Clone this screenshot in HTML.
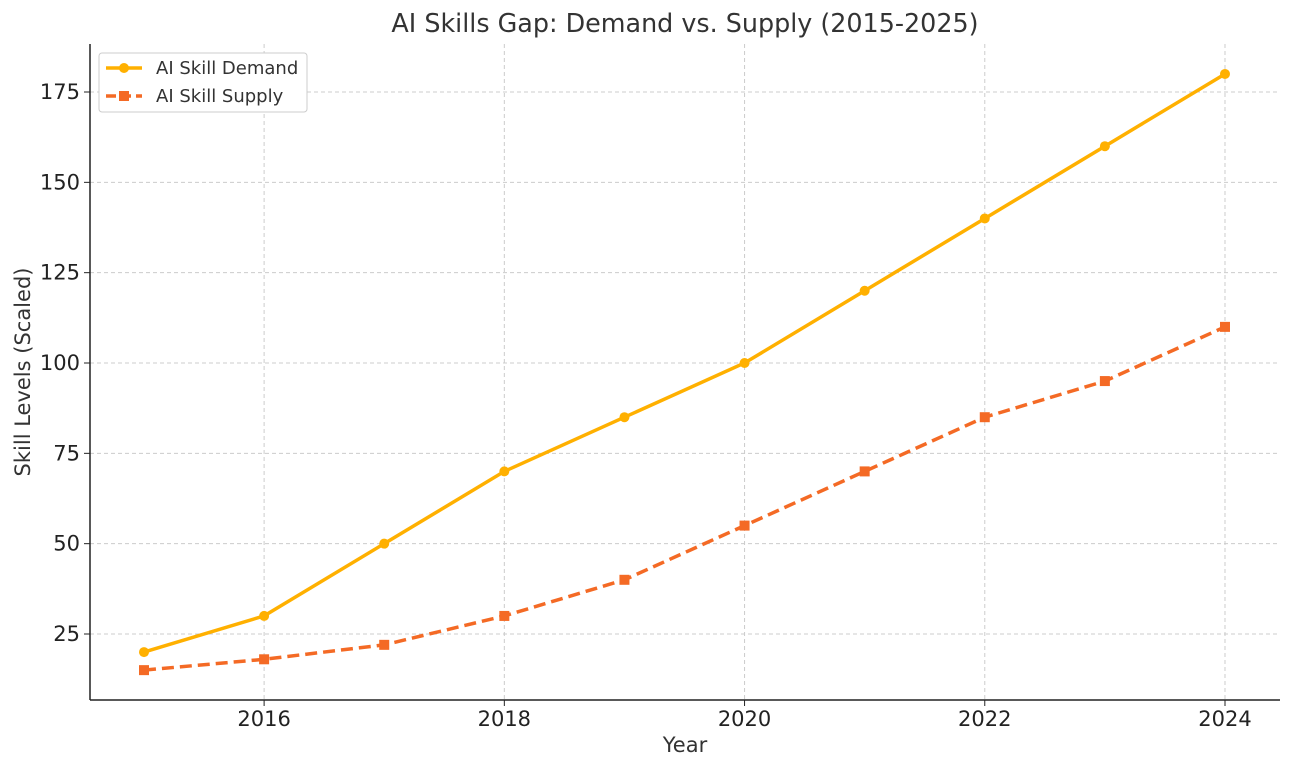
<!DOCTYPE html>
<html><head><meta charset="utf-8"><style>
body{margin:0;background:#fff;font-family:"Liberation Sans","DejaVu Sans",sans-serif}
svg text{font-family:"DejaVu Sans","Liberation Sans",sans-serif;fill:#333}
</style></head><body>
<svg id="chart" width="1292" height="770" xmlns="http://www.w3.org/2000/svg">
<rect width="1292" height="770" fill="#fff"/>
<g id="grid"></g><g id="axes"></g><g id="series"></g>
<text x="685" y="32" text-anchor="middle" font-size="25.4">AI Skills Gap: Demand vs. Supply (2015-2025)</text>
<text x="685" y="752" text-anchor="middle" font-size="21">Year</text>
<text transform="translate(30,372) rotate(-90)" text-anchor="middle" font-size="21">Skill Levels (Scaled)</text>
<g>
<rect x="99" y="53" width="208" height="59" rx="3" fill="#fff" stroke="#ccc"/>
<line x1="106" y1="68" x2="142" y2="68" stroke="#FFB000" stroke-width="3.5"/>
<circle cx="124" cy="68" r="5" fill="#FFB000"/>
<text x="156" y="74" font-size="18">AI Skill Demand</text>
<line x1="106" y1="96" x2="142" y2="96" stroke="#F46A25" stroke-width="3.5" stroke-dasharray="10,5"/>
<rect x="119" y="91" width="10" height="10" fill="#F46A25"/>
<text x="156" y="102" font-size="18">AI Skill Supply</text>
</g>
</svg>
<script>
const years=[2015,2016,2017,2018,2019,2020,2021,2022,2023,2024];
const demand=[20,30,50,70,85,100,120,140,160,180];
const supply=[15,18,22,30,40,55,70,85,95,110];
const xTicks=[2016,2018,2020,2022,2024];
const yTicks=[25,50,75,100,125,150,175];
const NS="http://www.w3.org/2000/svg";
const L=90,R=1280,T=44,B=700;
const xs=v=>144+(v-2015)*120.11;
const ys=v=>634-(v-25)*3.6133;
function mk(tag,at,parent){const e=document.createElementNS(NS,tag);for(const k in at)e.setAttribute(k,at[k]);document.getElementById(parent).appendChild(e);return e;}
xTicks.forEach(t=>{
 const g=mk('line',{x1:xs(t),x2:xs(t),y1:T,y2:B,stroke:'#ccc','stroke-dasharray':'4,3'},'grid');
 
 
 const tk=mk('line',{x1:xs(t),x2:xs(t),y1:B,y2:B+6,stroke:'#222'},'axes');
 
 
 const tx=mk('text',{x:xs(t),y:B+26,'text-anchor':'middle','font-size':21,style:'fill:#222'},'axes');
 tx.textContent=t;
 
 
});
yTicks.forEach(t=>{
 const g=mk('line',{x1:L,x2:R,y1:ys(t),y2:ys(t),stroke:'#ccc','stroke-dasharray':'4,3'},'grid');
 
 
 const tk=mk('line',{x1:L-6,x2:L,y1:ys(t),y2:ys(t),stroke:'#222'},'axes');
 
 
 const tx=mk('text',{x:L-10,y:ys(t)+7,'text-anchor':'end','font-size':21,style:'fill:#222'},'axes');
 tx.textContent=t;
 
 
});
const ax1=mk('line',{x1:L,x2:L,y1:T,y2:B,stroke:'#222','stroke-width':1.5},'axes');


const ax2=mk('line',{x1:L,x2:R,y1:B,y2:B,stroke:'#222','stroke-width':1.5},'axes');


const pd=years.map((y,i)=>xs(y)+','+ys(demand[i])).join(' ');
const l1=mk('polyline',{points:pd,fill:'none',stroke:'#FFB000','stroke-width':3.5},'series');


const ps=years.map((y,i)=>xs(y)+','+ys(supply[i])).join(' ');
const l2=mk('polyline',{points:ps,fill:'none',stroke:'#F46A25','stroke-width':3.5,'stroke-dasharray':'12,6'},'series');


years.forEach((y,i)=>{
 const c=mk('circle',{cx:xs(y),cy:ys(demand[i]),r:5,fill:'#FFB000'},'series');
 
 
 const s=mk('rect',{x:xs(y)-5,y:ys(supply[i])-5,width:10,height:10,fill:'#F46A25'},'series');
 
 
});
</script>
</body></html>
